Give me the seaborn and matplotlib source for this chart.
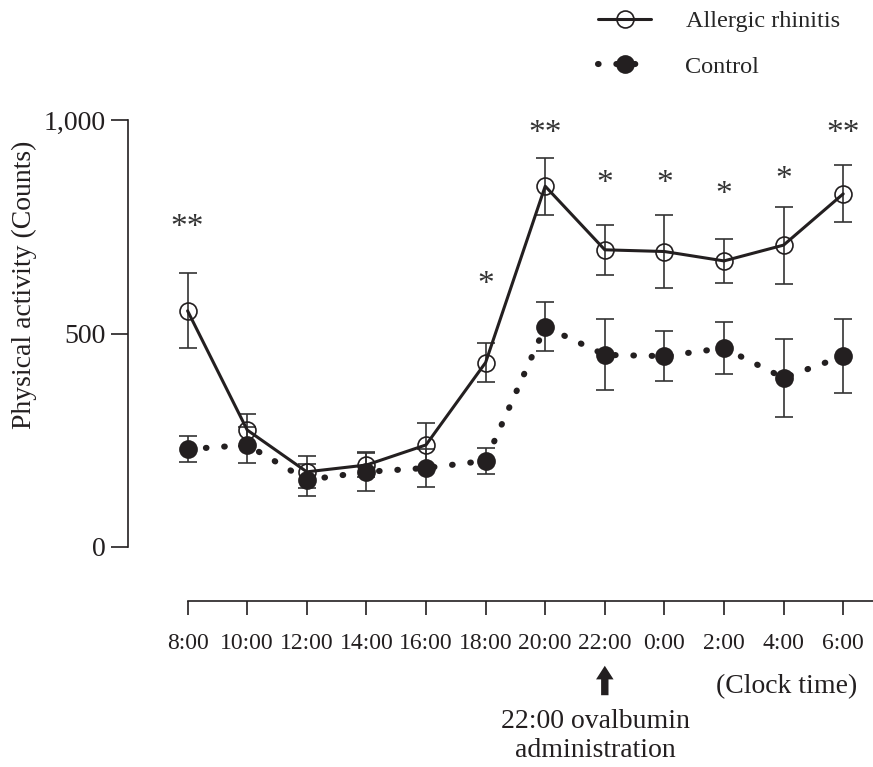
import matplotlib
matplotlib.use("Agg")
import matplotlib.pyplot as plt
import matplotlib.transforms as mtrans
import numpy as np
import seaborn as sns

# clock times on the x axis
times = ["8:00", "10:00", "12:00", "14:00", "16:00", "18:00",
         "20:00", "22:00", "0:00", "2:00", "4:00", "6:00"]

# mean physical activity (counts) and SE
allergic = [553, 274, 176, 192, 239, 432, 845, 696, 692, 670, 707, 827]
allergic_se = [88, 38, 37, 29, 51, 45, 67, 58, 86, 51, 90, 67]
control = [229, 239, 157, 176, 185, 202, 516, 450, 447, 466, 396, 447]
control_se = [30, 42, 38, 46, 44, 30, 57, 83, 58, 61, 91, 87]

# significance marks and the height they sit at
stars = ["**", "", "", "", "", "*", "**", "*", "*", "*", "*", "**"]
star_y = [759, 0, 0, 0, 0, 625, 979, 862, 862, 838, 873, 979]

sns.set_style("ticks")
plt.rcParams["font.family"] = ["Liberation Serif", "DejaVu Serif"]
ink = "#231f20"

W, H = 873, 767
fig = plt.figure(figsize=(W / 100, H / 100), dpi=100)
ax = fig.add_axes([128 / W, (H - 601) / H, 745 / W, 501 / H])

x = np.arange(len(times))

sns.lineplot(x=x, y=allergic, ax=ax, color=ink, lw=2.2, marker="o",
             markersize=12.2, markerfacecolor="none", markeredgecolor=ink,
             markeredgewidth=1.2, label="Allergic rhinitis", zorder=3)
sns.lineplot(x=x, y=control, ax=ax, color=ink, lw=4.4,
             linestyle=(0, (0.1, 2.9)), dash_capstyle="round", marker="o",
             markersize=13.5, markerfacecolor=ink, markeredgecolor=ink,
             markeredgewidth=0, label="Control", zorder=4)
handles = list(ax.lines[:2])

ax.errorbar(x, allergic, yerr=allergic_se, fmt="none", ecolor="#333333",
            elinewidth=1.2, capsize=6.3, capthick=1.2, zorder=2)
ax.errorbar(x, control, yerr=control_se, fmt="none", ecolor="#333333",
            elinewidth=1.2, capsize=6.3, capthick=1.2, zorder=2)

for xi, s, sy in zip(x, stars, star_y):
    if s:
        ax.text(xi, sy - 12, s, ha="center", va="center", fontsize=24,
                color="#333333", clip_on=False)

ax.set_xlim(-1.0, 11.5)
ax.set_ylim((601 - 547) / -0.427, (547 - 100) / 0.427)
ax.set_xticks(x)
ax.set_xticklabels(times, fontsize=17, color=ink)
ax.set_yticks([0, 500, 1000])
ax.set_yticklabels(["0", "500", "1,000"], fontsize=20, color=ink)
ax.tick_params(axis="x", direction="out", length=10, width=1.2, pad=13,
               color=ink)
ax.tick_params(axis="y", direction="out", length=12, width=1.2, pad=4,
               color=ink)
for side in ["top", "right"]:
    ax.spines[side].set_visible(False)
ax.spines["left"].set_bounds(0, 1000)
ax.spines["bottom"].set_bounds(0, 11.5)
for side in ["left", "bottom"]:
    ax.spines[side].set_linewidth(1.2)
    ax.spines[side].set_color(ink)
ax.set_xlabel("")
ax.set_ylabel("")

fig.text(24 / W, 1 - 285 / H, "Physical activity (Counts)", rotation=90,
         ha="center", va="center", fontsize=20, color=ink)

ax.legend(handles=handles, loc="center left",
          bbox_to_anchor=(598 / W, 1 - 44 / H),
          bbox_transform=fig.transFigure, frameon=False, fontsize=17.5,
          handlelength=2.2, handletextpad=1.4, labelspacing=0.95,
          borderpad=0, borderaxespad=0, numpoints=1)

mixed = mtrans.blended_transform_factory(ax.transData, fig.transFigure)

# dosing arrow under 22:00
ax.annotate("", xy=(7, 1 - 663 / H), xytext=(7, 1 - 698 / H),
            xycoords=mixed, textcoords=mixed,
            arrowprops=dict(arrowstyle="simple,head_length=0.7,head_width=0.9,tail_width=0.38",
                            mutation_scale=14, color=ink, lw=0))
ax.text(6.85, 1 - 736 / H, "22:00 ovalbumin\nadministration",
        transform=mixed, ha="center", va="center", fontsize=20, color=ink,
        linespacing=1.25)
ax.text(10.05, 1 - 687 / H, "(Clock time)", transform=mixed,
        ha="center", va="center", fontsize=20, color=ink)

fig.savefig("out.png", dpi=100)
